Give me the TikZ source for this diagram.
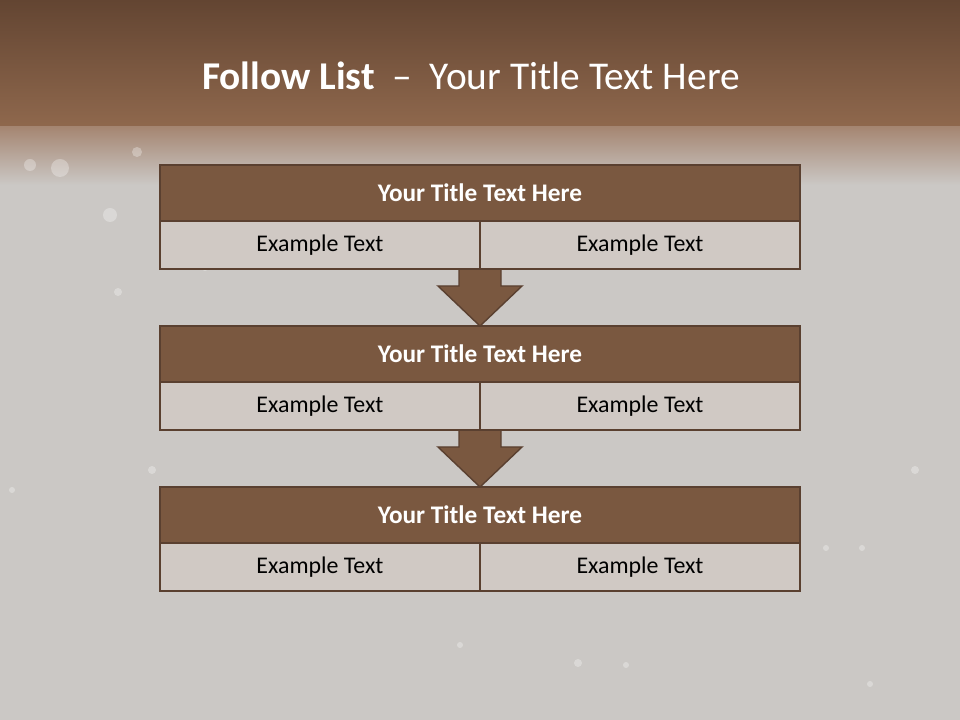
\documentclass[tikz,border=0pt]{standalone}
\usepackage{fontspec}
\setmainfont{Carlito}
\usepackage{tikz}
\usetikzlibrary{positioning, calc}
\definecolor{topbrown}{HTML}{634532}
\definecolor{bandbrown}{HTML}{8F684D}
\definecolor{fadebrown}{HTML}{A58672}
\definecolor{slidegray}{HTML}{CBC8C5}
\definecolor{headfill}{HTML}{7A5840}
\definecolor{rowfill}{HTML}{D0C9C4}
\definecolor{edgebrown}{HTML}{5A4030}
\pgfdeclarelayer{back}
\pgfdeclarelayer{mid}
\pgfsetlayers{back,mid,main}
\tikzset{
  headbox/.style={rectangle, minimum width=16cm, minimum height=1.4cm, outer sep=0pt, text centered, draw=edgebrown, line width=1.5pt, fill=headfill, text=white, font=\fontsize{18}{21}\selectfont\bfseries},
  cellbox/.style={rectangle, minimum width=8cm, minimum height=1.2cm, outer sep=0pt, text centered, draw=edgebrown, line width=1.5pt, fill=rowfill, text=black, font=\fontsize{17}{20}\selectfont},
  flowarrow/.style={draw=edgebrown, line width=1pt, fill=headfill, line join=miter}
}
\newcommand{\downstep}[2]{
    \draw[flowarrow] ($(#1)+(-21,0)$) -- ($(#2)+(-21,-40)$) -- ($(#2)+(-42,-40)$)
        -- (#2) -- ($(#2)+(42,-40)$) -- ($(#2)+(21,-40)$) -- ($(#1)+(21,0)$) -- cycle;
}

\begin{document}
\begin{tikzpicture}[x=0.025cm, y=-0.025cm]
        \useasboundingbox (0,0) rectangle (960,720);

        % Fondo de la diapositiva
        \begin{pgfonlayer}{back}
            \fill[slidegray] (0,0) rectangle (960,720);
            \shade[top color=topbrown, bottom color=bandbrown] (0,0) rectangle (960,127);
            \shade[top color=fadebrown, bottom color=slidegray] (0,127) rectangle (960,185);
            \foreach \px/\py/\r in {30/165/6, 60/168/9, 137/152/5, 110/215/7, 118/292/4, 205/268/3, 460/645/3, 578/663/4, 626/665/3, 862/548/3, 826/548/3, 870/684/3, 915/470/4, 12/490/3, 152/470/4} {
                \fill[white, opacity=0.3] (\px,\py) circle (\r);
            }
        \end{pgfonlayer}

        % Titulo
        \node[text=white, font=\fontsize{28}{32}\selectfont] (title) at (471,76)
            {\textbf{Follow List}\ \ --\hspace{0.45em}Your Title Text Here};

        % Bloques de la lista
        \foreach \k/\ytop in {1/165, 2/326, 3/487} {
            \node[headbox, anchor=north] (t\k) at (480,\ytop) {Your Title Text Here};
            \node[cellbox, below=0pt of t\k.south west, anchor=north west] (l\k) {Example Text};
            \node[cellbox, below=0pt of t\k.south east, anchor=north east] (r\k) {Example Text};
        }

        % Flechas entre bloques
        \begin{pgfonlayer}{mid}
            \downstep{l1.south east}{t2.north}
            \downstep{l2.south east}{t3.north}
        \end{pgfonlayer}

    \end{tikzpicture}
\end{document}
